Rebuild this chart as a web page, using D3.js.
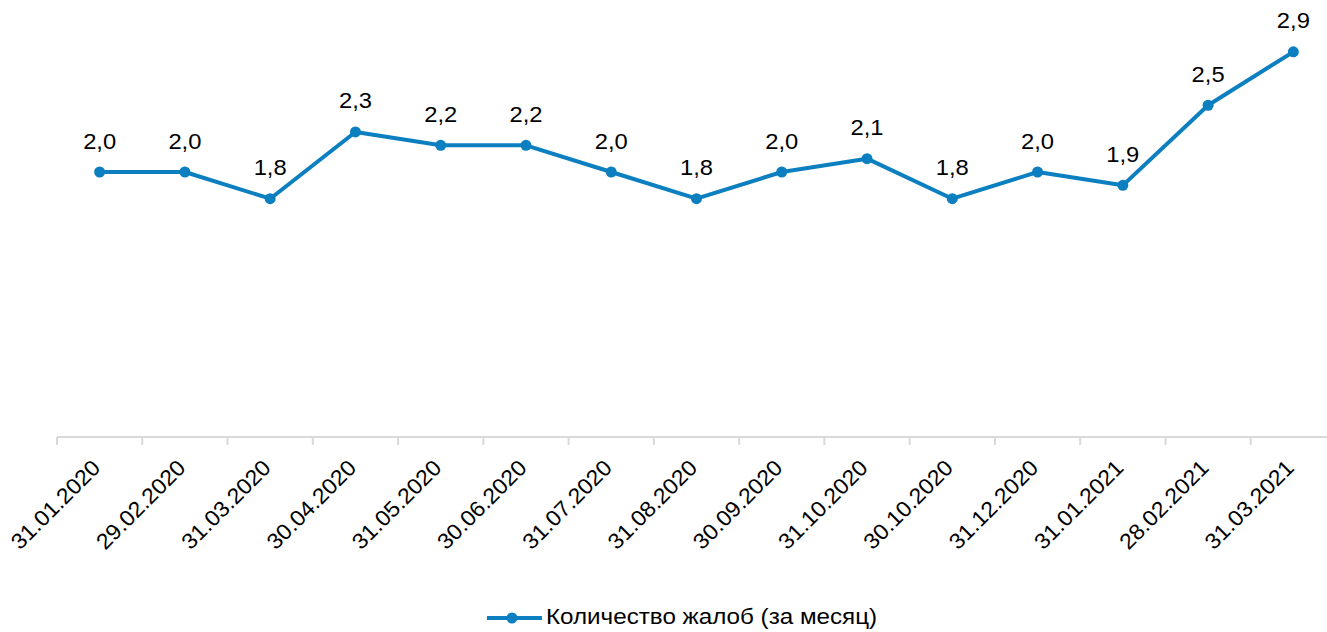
<!DOCTYPE html>
<html>
<head>
<meta charset="utf-8">
<script src="https://cdn.jsdelivr.net/npm/d3@7"></script>
<style>
  body { margin: 0; background: #fff; }
  text { font-family: 'Liberation Sans', Arial, sans-serif; }
</style>
</head>
<body>
<script>
// data
var dates = ['31.01.2020', '29.02.2020', '31.03.2020', '30.04.2020', '31.05.2020',
             '30.06.2020', '31.07.2020', '31.08.2020', '30.09.2020', '31.10.2020',
             '30.10.2020', '31.12.2020', '31.01.2021', '28.02.2021', '31.03.2021'];
var complaints = [2.0, 2.0, 1.8, 2.3, 2.2, 2.2, 2.0, 1.8, 2.0, 2.1, 1.8, 2.0, 1.9, 2.5, 2.9];
var seriesName = 'Количество жалоб (за месяц)';

var width = 1327, height = 632, color = '#0b7fc0';

var svg = d3.select('body').append('svg')
    .attr('width', width)
    .attr('height', height);

//scales
var xscale = d3.scaleBand().domain(dates).range([57, 1336]);
var yscale = d3.scaleLinear().domain([0, 3.3]).range([439, 439 - 3.3 * 133.5]);

//x axis with boundary ticks (category axis)
var axisY = 437;
var gx = svg.append('g').attr('transform', 'translate(0,' + axisY + ')');
gx.append('line')
    .attr('x1', xscale.range()[0]).attr('x2', width)
    .attr('stroke', '#d9d9d9').attr('stroke-width', 2);
gx.selectAll('line.tick')
    .data(dates)
    .enter().append('line')
        .attr('class', 'tick')
        .attr('x1', function (d) { return xscale(d); })
        .attr('x2', function (d) { return xscale(d); })
        .attr('y1', 0).attr('y2', 8)
        .attr('stroke', '#d9d9d9').attr('stroke-width', 2);
gx.selectAll('text')
    .data(dates)
    .enter().append('text')
        .attr('transform', function (d) {
            return 'translate(' + (xscale(d) + xscale.bandwidth() / 2 - 9) + ',21) rotate(-45) scale(1.05,1)';
        })
        .attr('text-anchor', 'end')
        .attr('dy', '0.71em')
        .attr('font-size', '22px')
        .attr('fill', '#000')
        .text(function (d) { return d; });

//line
var cx = function (d, i) { return xscale(dates[i]) + xscale.bandwidth() / 2; };
var line = d3.line()
    .x(function (d, i) { return cx(d, i); })
    .y(function (d) { return yscale(d); });

svg.append('path')
    .datum(complaints)
    .attr('d', line)
    .attr('fill', 'none')
    .attr('stroke', color)
    .attr('stroke-width', 4)
    .attr('stroke-linejoin', 'round');

svg.selectAll('circle.pt')
    .data(complaints)
    .enter().append('circle')
        .attr('class', 'pt')
        .attr('cx', cx)
        .attr('cy', function (d) { return yscale(d); })
        .attr('r', 5.5)
        .attr('fill', color);

//value labels
var fmt = function (v) { return v.toFixed(1).replace('.', ','); };
svg.selectAll('text.val')
    .data(complaints)
    .enter().append('text')
        .attr('class', 'val')
        .attr('transform', function (d, i) {
            return 'translate(' + cx(d, i) + ',' + (yscale(d) - 23.5) + ') scale(1.08,1)';
        })
        .attr('text-anchor', 'middle')
        .attr('font-size', '22px')
        .attr('fill', '#000')
        .text(fmt);

//legend
var lg = svg.append('g').attr('transform', 'translate(487,618)');
lg.append('line').attr('x1', 0).attr('x2', 55)
    .attr('stroke', color).attr('stroke-width', 4);
lg.append('circle').attr('cx', 25).attr('r', 5.5).attr('fill', color);
lg.append('text')
    .attr('transform', 'translate(59,6) scale(1.1,1)')
    .attr('font-size', '22px')
    .attr('fill', '#000')
    .text(seriesName);
</script>
</body>
</html>
